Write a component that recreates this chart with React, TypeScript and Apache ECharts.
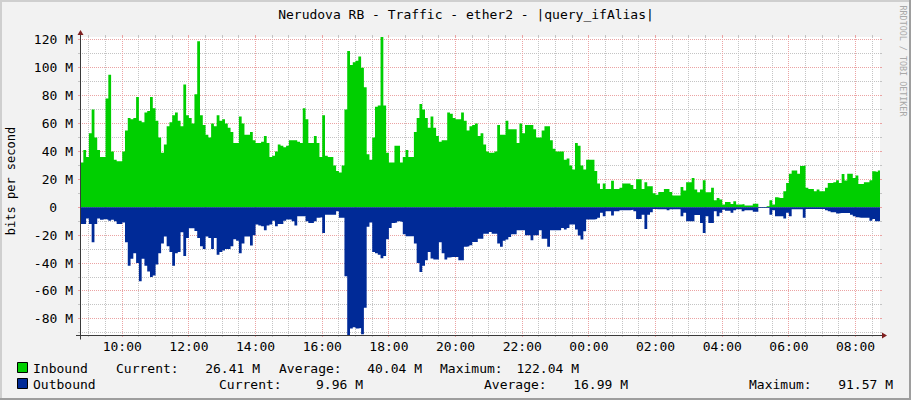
import React, { useEffect, useRef } from 'react';
import * as echarts from 'echarts';

const TITLE = 'Nerudova RB - Traffic - ether2 - |query_ifAlias|';
const Y_NAME = 'bits per second';
const WATERMARK = 'RRDTOOL / TOBI OETIKER';

// 5-minute samples; sample i covers [START_HOUR + i*STEP_HOURS, START_HOUR + (i+1)*STEP_HOURS]
const START_HOUR = 8 + 40 / 60;
const STEP_HOURS = 5 / 60;
const X_MIN = 8 + 44 / 60;
const X_MAX = X_MIN + 24;

// Inbound traffic, Mbit/s
const INBOUND = [
  32, 32, 41, 36, 53, 70, 50, 41, 36, 36,
  78, 95, 40, 34, 33, 33, 40, 55, 64, 63,
  64, 79, 62, 61, 68, 69, 79, 71, 62, 50,
  39, 45, 58, 61, 66, 68, 62, 58, 88, 66,
  64, 60, 81, 119, 66, 59, 52, 50, 60, 58,
  66, 62, 63, 60, 57, 54, 46, 46, 65, 60,
  52, 52, 54, 48, 46, 46, 47, 51, 46, 36,
  37, 40, 45, 44, 43, 44, 48, 48, 48, 47,
  46, 71, 63, 46, 46, 51, 46, 36, 66, 37,
  36, 36, 30, 26, 25, 30, 70, 112, 102, 104,
  105, 108, 100, 86, 38, 34, 50, 72, 73, 122.04,
  73, 39, 32, 32, 44, 44, 32, 36, 41, 36,
  36, 54, 64, 74, 70, 64, 57, 65, 57, 51,
  47, 48, 48, 68, 67, 64, 63, 63, 68, 62,
  55, 58, 59, 60, 51, 53, 45, 40, 39, 39,
  40, 59, 52, 52, 62, 56, 56, 56, 46, 60,
  53, 59, 59, 59, 56, 50, 50, 55, 58, 58,
  48, 42, 40, 40, 40, 34, 35, 30, 27, 46,
  44, 30, 27, 34, 34, 34, 26, 17, 13, 17,
  13, 13, 19, 13, 13, 14, 17, 17, 17, 16,
  13, 20, 20, 13, 18, 15, 15, 10, 9, 11,
  11, 13, 13, 11, 8.4, 8.4, 8.4, 14.6, 12, 18,
  18, 21, 12.7, 10.8, 12.7, 19.4, 10.8, 10.8, 13.9, 5,
  6.7, 5.5, 2, 3.7, 3.7, 2.4, 4.3, 2, 2, 2.4,
  1.2, 1.2, 1.2, 2.5, 2.5, 0.2, 0.1, 0.1, 0.7, 5,
  2, 7.2, 6.7, 6.7, 11.5, 17.4, 24, 26.3, 26.3, 24,
  29.5, 30, 13.9, 13, 13, 11.5, 12.7, 11.5, 11.5, 13.9,
  17.4, 17.4, 18, 19.4, 17.4, 23.9, 19.1, 24, 24, 21,
  22.7, 16.7, 16.7, 18, 18, 19.4, 25.8, 25.3, 26.41,
];

// Outbound traffic, Mbit/s (plotted below zero)
const OUTBOUND = [
  12, 12, 12, 8, 12, 25, 12, 8, 9, 8.5,
  9, 9.6, 9, 10, 12, 12, 11, 25, 42, 37,
  33, 40, 53, 37, 42, 46, 50, 49, 41, 33,
  26, 21, 28, 32, 42, 33, 32, 18, 35, 22,
  15, 15, 17, 22, 28, 30, 21, 22, 30, 22,
  34, 32, 31, 30, 30, 28, 23, 24, 33, 26,
  21, 21, 27.5, 20, 12.4, 13, 13.6, 16.5, 13, 12.4,
  9.6, 13.6, 12, 12, 9.6, 8.8, 8.8, 10, 13, 6.5,
  6.5, 6.5, 10, 11.2, 11.2, 10, 7.6, 7.2, 18.4, 5.3,
  5.3, 5.3, 5.3, 2.9, 7.6, 7.6, 49.5, 91.57, 87, 86,
  87, 86.5, 91, 72, 14, 11, 32, 33, 34, 36.5,
  35, 23, 14.8, 11.2, 11, 10, 10.5, 19.4, 20.8, 20.8,
  20.8, 26, 40, 46.5, 42, 38, 32, 36.8, 37.5, 37.5,
  25, 33, 37.5, 36, 35.6, 35.6, 35.6, 38, 38, 28.4,
  28, 27.2, 24.9, 24.9, 22.5, 22.5, 19, 19, 17.7, 19,
  19, 26, 28.4, 24, 23.2, 21.3, 19.4, 19.4, 16.5, 16.5,
  16.5, 20, 20, 23.7, 20, 20, 16.5, 22.5, 22.5, 28.4,
  16.5, 16.5, 16.5, 16.5, 14.8, 16, 14.8, 12.4, 12.4, 16,
  20.3, 23.2, 17.2, 8.8, 8.8, 8.8, 8.4, 7.6, 4, 6.5,
  2.9, 2.9, 6, 2.9, 2.9, 2.2, 2.2, 2.2, 2.2, 1.7,
  2.9, 8.4, 8.4, 5.3, 15.5, 5.3, 3.6, 1.2, 1.5, 1.5,
  1.5, 1.5, 2.2, 1.5, 1.5, 1.5, 1.5, 6.5, 4, 10,
  10, 10, 5.5, 5.5, 11.2, 18.4, 6.5, 11.2, 11.2, 2.9,
  6.5, 4, 1.7, 2.5, 2.5, 4, 2.2, 1.4, 1.4, 2.9,
  2.2, 2.2, 2.2, 3.3, 3.3, 0.6, 0.6, 0.6, 0.6, 5.3,
  2.2, 6.5, 6.5, 6.5, 8.1, 4, 6.5, 1.5, 1.5, 1.5,
  1.5, 7.6, 1.2, 1.2, 1.2, 1.2, 1.2, 1.2, 1.2, 2.2,
  2.9, 3.6, 3.6, 4.5, 4.2, 4.2, 4.2, 4.2, 5.3, 6.5,
  7.2, 7.6, 7.6, 7.6, 7.6, 9.6, 8.4, 10, 9.96,
];

// Axis ticks
const X_LABEL_HOURS = [10, 12, 14, 16, 18, 20, 22, 24, 26, 28, 30, 32];
const X_MINOR_HOURS = [
  9, 9.5, 10.5, 11, 11.5, 12.5, 13, 13.5, 14.5, 15, 15.5, 16.5, 17, 17.5,
  18.5, 19, 19.5, 20.5, 21, 21.5, 22.5, 23, 23.5, 24.5, 25, 25.5, 26.5, 27,
  27.5, 28.5, 29, 29.5, 30.5, 31, 31.5, 32.5,
];
const Y_LABELS = [-80, -60, -40, -20, 0, 20, 40, 60, 80, 100, 120];
const Y_MINOR = [-90, -70, -50, -30, -10, 10, 30, 50, 70, 90, 110];

// Legend text
const SERIES_NAMES = ['Inbound', 'Outbound'];
const INBOUND_LEGEND = ['Current:', '26.41 M', 'Average:', '40.04 M', 'Maximum:', '122.04 M'];
const OUTBOUND_LEGEND = ['Current:', '9.96 M', 'Average:', '16.99 M', 'Maximum:', '91.57 M'];

const MONO = '"DejaVu Sans Mono", "Liberation Mono", monospace';
const GREEN = '#00CF00';
const BLUE = '#002A97';
const MINOR_COLOR = '#c4c4c4';
const MAJOR_COLOR = '#eba3a3';

const GRID_LEFT = 80;
const GRID_TOP = 37;
const GRID_W = 800;
const GRID_H = 298;

function gridSeries(values: number[], vertical: boolean, color: string, z: number) {
  return {
    type: 'custom',
    coordinateSystem: 'cartesian2d',
    silent: true,
    clip: false,
    z,
    data: values.map((v) => (vertical ? [v, 0] : [X_MIN + 1, v])),
    renderItem: (params: any, api: any) => {
      const cs = params.coordSys;
      const left = cs.x;
      const right = cs.x + cs.width;
      const top = cs.y;
      const bottom = cs.y + cs.height;
      const solid = { stroke: color, lineWidth: 1 };
      const dashed = { stroke: color, lineWidth: 1, lineDash: [1, 1] };
      if (vertical) {
        const x = Math.floor(api.coord([api.value(0), 0])[0]) + 0.5;
        return {
          type: 'group',
          children: [
            { type: 'line', shape: { x1: x, y1: top - 2, x2: x, y2: top }, style: solid },
            { type: 'line', shape: { x1: x, y1: bottom, x2: x, y2: bottom + 2 }, style: solid },
            { type: 'line', shape: { x1: x, y1: top, x2: x, y2: bottom }, style: dashed },
          ],
        };
      }
      const y = Math.floor(api.coord([X_MIN + 1, api.value(1)])[1]) + 0.5;
      return {
        type: 'group',
        children: [
          { type: 'line', shape: { x1: left - 2, y1: y, x2: left, y2: y }, style: solid },
          { type: 'line', shape: { x1: right, y1: y, x2: right + 2, y2: y }, style: solid },
          { type: 'line', shape: { x1: left, y1: y, x2: right, y2: y }, style: dashed },
        ],
      };
    },
  };
}

function txt(text: string, x: number, y: number, o: any = {}) {
  const align = o.align || 'left';
  return {
    type: 'text',
    x,
    y,
    rotation: o.rotation || 0,
    z: 100,
    silent: true,
    style: {
      text,
      fill: o.color || '#000',
      fontSize: o.size || 13,
      fontFamily: MONO,
      align,
      verticalAlign: 'middle',
      textAlign: align,
      textVerticalAlign: 'middle',
    },
  };
}

export default function App() {
  const ref = useRef<HTMLDivElement>(null);

  useEffect(() => {
    if (!ref.current) return;
    const chart = echarts.init(ref.current, undefined, { renderer: 'svg' });

    const yMax = Math.max(...INBOUND);
    const yMin = -Math.max(...OUTBOUND);

    const inData = INBOUND.map((v, i) => [START_HOUR + i * STEP_HOURS, v]);
    inData.push([X_MAX, INBOUND[INBOUND.length - 1]]);
    const outData = OUTBOUND.map((v, i) => [START_HOUR + i * STEP_HOURS, -v]);
    outData.push([X_MAX, -OUTBOUND[OUTBOUND.length - 1]]);

    const axisY = GRID_TOP + GRID_H + 0.5;
    const axisX = GRID_LEFT + 0.5;
    const right = GRID_LEFT + GRID_W;

    // legend layout: label left x, value right x (alternating)
    const legendX = [
      [116, 260, 279, 422, 440, 579],
      [219, 363, 484, 628, 749, 893],
    ];
    const legendY = [368, 384];
    const legendTexts = [INBOUND_LEGEND, OUTBOUND_LEGEND];
    const legendColors = [GREEN, BLUE];

    const graphics: any[] = [
      // 3D frame
      { type: 'rect', shape: { x: 0, y: 0, width: 911, height: 2 }, style: { fill: '#cfcfcf' }, z: 100, silent: true },
      { type: 'rect', shape: { x: 0, y: 0, width: 2, height: 400 }, style: { fill: '#cfcfcf' }, z: 100, silent: true },
      { type: 'rect', shape: { x: 0, y: 398, width: 911, height: 2 }, style: { fill: '#9e9e9e' }, z: 100, silent: true },
      { type: 'rect', shape: { x: 909, y: 0, width: 2, height: 400 }, style: { fill: '#9e9e9e' }, z: 100, silent: true },
      // axes
      { type: 'line', shape: { x1: GRID_LEFT - 4, y1: axisY, x2: right + 4, y2: axisY }, style: { stroke: '#3a3a3a', lineWidth: 1 }, z: 100, silent: true },
      { type: 'line', shape: { x1: axisX, y1: axisY + 4, x2: axisX, y2: GRID_TOP - 4 }, style: { stroke: '#3a3a3a', lineWidth: 1 }, z: 100, silent: true },
      { type: 'polygon', shape: { points: [[right + 2, axisY - 3], [right + 2, axisY + 3], [right + 7, axisY]] }, style: { fill: '#801f1f' }, z: 100, silent: true },
      { type: 'polygon', shape: { points: [[axisX - 3, GRID_TOP - 2], [axisX + 3, GRID_TOP - 2], [axisX, GRID_TOP - 7]] }, style: { fill: '#801f1f' }, z: 100, silent: true },
      // texts
      txt(TITLE, 466, 14, { align: 'center' }),
      txt(Y_NAME, 11, 181, { align: 'center', rotation: Math.PI / 2, size: 12 }),
      txt(WATERMARK, 903, 61, { align: 'center', rotation: -Math.PI / 2, size: 8.4, color: '#a8a8a8' }),
    ];

    for (let r = 0; r < 2; r++) {
      graphics.push({
        type: 'rect',
        shape: { x: 17.5, y: legendY[r] - 5.5, width: 10, height: 10 },
        style: { fill: legendColors[r], stroke: '#000', lineWidth: 1 },
        z: 100,
        silent: true,
      });
      graphics.push(txt(SERIES_NAMES[r], 33, legendY[r]));
      legendTexts[r].forEach((t, k) =>
        graphics.push(txt(t, legendX[r][k], legendY[r], { align: k % 2 === 1 ? 'right' : 'left' }))
      );
    }

    const option: any = {
      animation: false,
      backgroundColor: '#f2f2f2',
      grid: {
        left: GRID_LEFT,
        top: GRID_TOP,
        width: GRID_W,
        height: GRID_H,
        show: true,
        backgroundColor: '#ffffff',
        borderWidth: 0,
      },
      xAxis: {
        type: 'value',
        min: X_MIN,
        max: X_MAX,
        axisLine: { show: false, onZero: false },
        axisTick: { show: false },
        splitLine: { show: false },
        axisLabel: {
          customValues: X_LABEL_HOURS,
          formatter: (v: number) => {
            const h = Math.round(v) % 24;
            return (h < 10 ? '0' : '') + h + ':00';
          },
          fontFamily: MONO,
          fontSize: 13,
          color: '#000',
          margin: 5,
        },
      },
      yAxis: {
        type: 'value',
        min: yMin,
        max: yMax,
        axisLine: { show: false, onZero: false },
        axisTick: { show: false },
        splitLine: { show: false },
        axisLabel: {
          customValues: Y_LABELS,
          formatter: (v: number) => (v === 0 ? '{z|0}' : `${v} M`),
          fontFamily: MONO,
          fontSize: 13,
          color: '#000',
          margin: 7,
          rich: {
            z: { fontFamily: MONO, fontSize: 13, color: '#000', padding: [0, 16, 0, 0] },
          },
        },
      },
      series: [
        gridSeries(X_MINOR_HOURS, true, MINOR_COLOR, 1),
        gridSeries(Y_MINOR, false, MINOR_COLOR, 1),
        gridSeries(X_LABEL_HOURS, true, MAJOR_COLOR, 2),
        gridSeries(Y_LABELS, false, MAJOR_COLOR, 2),
        {
          name: SERIES_NAMES[0],
          type: 'line',
          data: inData,
          step: 'end',
          symbol: 'none',
          silent: true,
          z: 3,
          lineStyle: { width: 0 },
          areaStyle: { color: GREEN, opacity: 1 },
        },
        {
          name: SERIES_NAMES[1],
          type: 'line',
          data: outData,
          step: 'end',
          symbol: 'none',
          silent: true,
          z: 3,
          lineStyle: { width: 0 },
          areaStyle: { color: BLUE, opacity: 1 },
        },
      ],
      graphic: { elements: graphics },
    };

    chart.setOption(option);
    return () => chart.dispose();
  }, []);

  return (
    <div
      ref={ref}
      style={{ position: 'fixed', left: 0, top: 0, width: 911, height: 400 }}
    />
  );
}
